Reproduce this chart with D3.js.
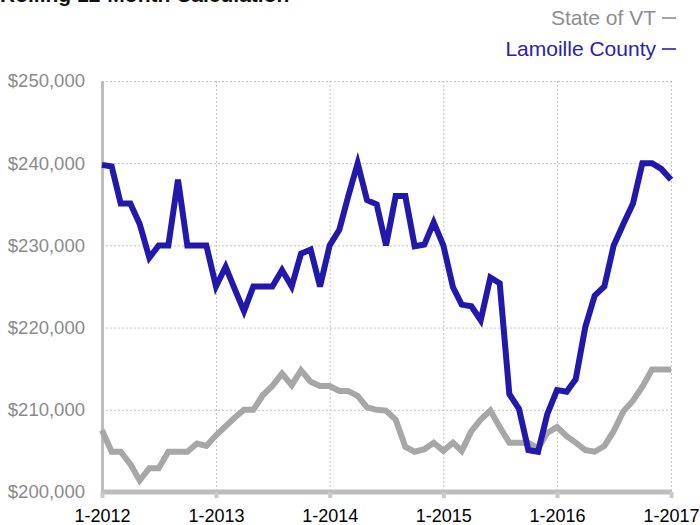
<!DOCTYPE html>
<html>
<head>
<meta charset="utf-8">
<script src="https://cdn.jsdelivr.net/npm/d3@7"></script>
<style>
  body { margin: 0; background: #fff; }
  svg { display: block; font-family: "Liberation Sans", Arial, sans-serif; }
</style>
</head>
<body>
<div class="chart"><svg></svg></div>
<script>
// monthly values, 1-2012 .. 1-2017 (rolling 12 month median)
const startMonth = new Date(2012, 0, 1)
const endMonth = new Date(2017, 0, 1)

const lamoille = [
  239800, 239600, 235100, 235100, 232600, 228500, 230000, 230000, 238000, 230000, 230000, 230000,
  225000, 227400, 224800, 222000, 225000, 225000, 225000, 227000, 225000, 229000, 229500, 225000,
  230000, 231900, 235900, 240000, 235500, 235000, 230000, 236000, 236000, 229900, 230100, 232800,
  230000, 224900, 222800, 222600, 220900, 226100, 225400, 211900, 210100, 205100, 204900, 209500,
  212400, 212200, 213700, 220100, 223900, 225000, 230000, 232600, 235100, 240000, 240000, 239300, 238000
]
const stateVT = [
  207500, 204900, 204900, 203400, 201400, 202900, 202900, 204900, 204900, 204900, 205900, 205600,
  206900, 208000, 209000, 210000, 210000, 211800, 212900, 214400, 213000, 214800, 213400, 212900,
  212900, 212300, 212300, 211700, 210300, 210000, 209900, 208800, 205500, 204900, 205200, 206000,
  205000, 206000, 205000, 207400, 208800, 209900, 207900, 206000, 206000, 206000, 205300, 207200,
  207900, 206800, 206000, 205100, 204900, 205600, 207400, 209800, 211100, 212800, 214900, 214900, 214900
]

const yTicks = [200000, 210000, 220000, 230000, 240000, 250000]
const seriesNames = ["State of VT", "Lamoille County"]
const seriesColors = ["#a7a7a7", "#2218ab"]
const legendColors = ["#8d8d8d", "#2a20b2"]
const title = "Rolling 12-Month Calculation"

const width = 700
const height = 525
const margin = { top: 81, right: 29, bottom: 33, left: 102 }

const months = d3.timeMonth.range(startMonth, d3.timeMonth.offset(endMonth, 1))

const x = d3.scaleTime()
  .domain([startMonth, endMonth])
  .range([margin.left, width - margin.right])
const y = d3.scaleLinear()
  .domain([200000, 250000])
  .range([height - margin.bottom, margin.top])

const svg = d3.select(".chart > svg")
  .attr("width", width)
  .attr("height", height)
  .attr("viewBox", [0, 0, width, height])

// grid
const gridX = x.ticks(d3.timeYear.every(1))
svg.append("g").attr("class", "grid")
  .selectAll("line.h").data(yTicks.slice(1)).join("line")
  .attr("x1", margin.left).attr("x2", width - margin.right)
  .attr("y1", d => y(d) + 0.5).attr("y2", d => y(d) + 0.5)
  .attr("stroke", "#c4c4c4").attr("stroke-dasharray", "2,2")
svg.select(".grid")
  .selectAll("line.v").data(gridX.slice(1)).join("line")
  .attr("class", "v")
  .attr("x1", d => x(d) + 0.5).attr("x2", d => x(d) + 0.5)
  .attr("y1", margin.top).attr("y2", height - margin.bottom)
  .attr("stroke", "#c4c4c4").attr("stroke-dasharray", "2,2")

// axes
const xAxis = g => g
  .attr("transform", `translate(0,${height - margin.bottom})`)
  .call(d3.axisBottom(x).ticks(d3.timeYear.every(1)).tickFormat(d3.timeFormat("1-%Y")).tickSize(6).tickPadding(11))
  .call(g => g.select(".domain").attr("stroke", "#bdbdbd").attr("stroke-width", 5).attr("d", `M${margin.left - 1},0H${width - margin.right + 1}`))
  .call(g => g.selectAll(".tick line").attr("stroke", "#c8c8c8").attr("stroke-width", 4))
  .call(g => g.selectAll(".tick text").attr("fill", "#000").attr("font-size", 18).attr("font-family", "Liberation Sans"))

const yAxis = g => g
  .attr("transform", `translate(${margin.left},0)`)
  .call(d3.axisLeft(y).tickValues(yTicks).tickFormat(d => "$" + d3.format(",")(d)).tickSize(0).tickPadding(17))
  .call(g => g.select(".domain").attr("stroke", "#bdbdbd").attr("stroke-width", 3))
  .call(g => g.selectAll(".tick text").attr("fill", "#8a8a8a").attr("font-size", 18.5).attr("font-family", "Liberation Sans"))

svg.append("g").attr("class", "xaxis").call(xAxis)
svg.append("g").attr("class", "yaxis").call(yAxis)

// lines
const line = d3.line()
  .x((d, i) => x(months[i]))
  .y(d => y(d))

svg.selectAll(".series").data([stateVT, lamoille]).join("path")
  .attr("class", "series")
  .attr("fill", "none")
  .attr("stroke", (d, i) => seriesColors[i])
  .attr("stroke-width", 6)
  .attr("stroke-linejoin", "miter")
  .attr("d", line)

// title (cut off at the top)
svg.append("text")
  .attr("x", 0).attr("y", 2)
  .attr("font-size", 21).attr("font-weight", "bold")
  .attr("fill", "#111")
  .text(title)

// legend
const legend = svg.append("g").attr("class", "legend")
  .selectAll("g").data(seriesNames).join("g")
  .attr("transform", (d, i) => `translate(0,${18 + i * 31})`)
legend.append("text")
  .attr("x", 656).attr("dy", "0.35em")
  .attr("text-anchor", "end")
  .attr("font-size", 21)
  .attr("fill", (d, i) => legendColors[i])
  .text(d => d)
legend.append("line")
  .attr("x1", 662).attr("x2", 676)
  .attr("stroke", (d, i) => legendColors[i])
  .attr("stroke-width", 1.6)
</script>
</body>
</html>
